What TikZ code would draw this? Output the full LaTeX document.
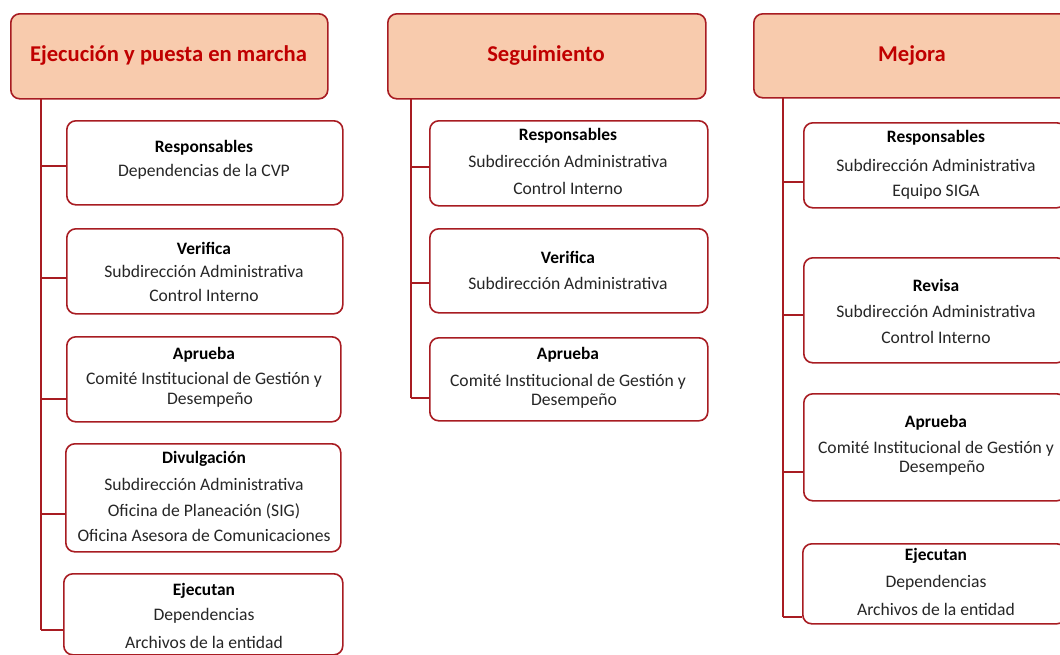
\documentclass[tikz,border=0pt]{standalone}
\usepackage{fontspec}
\setmainfont{Carlito}
\definecolor{hdrfill}{HTML}{F8CBAD}
\definecolor{edge}{HTML}{A81C22}
\definecolor{titlered}{HTML}{C00000}
\definecolor{bodytxt}{HTML}{262626}
\begin{document}
\begin{tikzpicture}[x=1pt,y=-1pt,
  hdr/.style={draw=edge, line width=1.6pt, fill=hdrfill, rounded corners=9pt, anchor=north west, inner sep=0pt},
  box/.style={draw=edge, line width=1.6pt, fill=white, rounded corners=9pt, anchor=north west, inner sep=0pt},
  conn/.style={draw=edge, line width=1.8pt},
  htxt/.style={font=\fontsize{22.6}{26}\selectfont\bfseries, text=titlered},
  ttl/.style={font=\fontsize{17.4}{20}\selectfont\bfseries, text=black},
  txt/.style={font=\fontsize{17.6}{20}\selectfont, text=bodytxt},
]
\useasboundingbox[fill=white] (0,0) rectangle (1060,654);

% ---------- column 1 ----------
\node[hdr, minimum width=317pt, minimum height=85pt] (H1) at (10,13) {};
\node[htxt] (H1t) at (168.5,55) {Ejecución y puesta en marcha};
\coordinate (T1) at (41,98);
\coordinate (B1) at (41,630);

\node[box, minimum width=276pt, minimum height=84pt] (L1) at (66,120) {};
\node[box, minimum width=276pt, minimum height=85pt] (L2) at (66,228) {};
\node[box, minimum width=274pt, minimum height=85pt] (L3) at (66,336) {};
\node[box, minimum width=275pt, minimum height=108pt] (L4) at (65,443) {};
\node[box, minimum width=279pt, minimum height=81pt] (L5) at (63,573) {};

\coordinate (c11) at (66,166);
\coordinate (c12) at (66,278);
\coordinate (c13) at (66,399);
\coordinate (c14) at (65,514);
\coordinate (c15) at (63,630);
\draw[conn] (T1) -- (B1);
\foreach \c in {c11,c12,c13,c14,c15} \draw[conn] (\c -| T1) -- (\c);

\node[ttl] (L1a) at (204,148) {Responsables};
\node[txt] (L1b) at (204,172) {Dependencias de la CVP};
\node[ttl] (L2a) at (204,248) {Verifica};
\node[txt] (L2b) at (204,271) {Subdirección Administrativa};
\node[txt] (L2c) at (204,295) {Control Interno};
\node[ttl] (L3a) at (204,355) {Aprueba};
\node[txt] (L3b) at (204,380) {Comité Institucional de Gestión y};
\node[txt] (L3c) at (210,400) {Desempeño};
\node[ttl] (L4a) at (204,459) {Divulgación};
\node[txt] (L4b) at (204,484) {Subdirección Administrativa};
\node[txt] (L4c) at (204,511) {Oficina de Planeación (SIG)};
\node[txt] (L4d) at (204,535) {Oficina Asesora de Comunicaciones};
\node[ttl] (L5a) at (204,591) {Ejecutan};
\node[txt] (L5b) at (204,616) {Dependencias};
\node[txt] (L5c) at (204,642) {Archivos de la entidad};

% ---------- column 2 ----------
\node[hdr, minimum width=318pt, minimum height=85pt] (H2) at (387,13) {};
\node[htxt] (H2t) at (546,55) {Seguimiento};
\coordinate (T2) at (411,98);
\coordinate (B2) at (411,398);

\node[box, minimum width=278pt, minimum height=85pt] (M1) at (429,120) {};
\node[box, minimum width=278pt, minimum height=84pt] (M2) at (429,228) {};
\node[box, minimum width=278pt, minimum height=83pt] (M3) at (429,337) {};

\coordinate (c21) at (429,167);
\coordinate (c22) at (429,283);
\coordinate (c23) at (429,398);
\draw[conn] (T2) -- (B2);
\foreach \c in {c21,c22,c23} \draw[conn] (\c -| T2) -- (\c);

\node[ttl] (M1a) at (568,136) {Responsables};
\node[txt] (M1b) at (568,161) {Subdirección Administrativa};
\node[txt] (M1c) at (568,188) {Control Interno};
\node[ttl] (M2a) at (568,257) {Verifica};
\node[txt] (M2b) at (568,283) {Subdirección Administrativa};
\node[ttl] (M3a) at (568,355) {Aprueba};
\node[txt] (M3b) at (568,382) {Comité Institucional de Gestión y};
\node[txt] (M3c) at (574,401) {Desempeño};

% ---------- column 3 ----------
\node[hdr, minimum width=318pt, minimum height=84pt] (H3) at (753,13) {};
\node[htxt] (H3t) at (912,55) {Mejora};
\coordinate (T3) at (783,97);
\coordinate (B3) at (783,617);

\node[box, minimum width=262pt, minimum height=85pt] (R1) at (803,122) {};
\node[box, minimum width=262pt, minimum height=105pt] (R2) at (803,257) {};
\node[box, minimum width=262pt, minimum height=107pt] (R3) at (803,393) {};
\node[box, minimum width=263pt, minimum height=80pt] (R4) at (802,543) {};

\coordinate (c31) at (803,182);
\coordinate (c32) at (803,315);
\coordinate (c33) at (803,472);
\coordinate (c34) at (802,617);
\draw[conn] (T3) -- (B3);
\foreach \c in {c31,c32,c33,c34} \draw[conn] (\c -| T3) -- (\c);

\node[ttl] (R1a) at (936,138) {Responsables};
\node[txt] (R1b) at (936,165) {Subdirección Administrativa};
\node[txt] (R1c) at (936,192) {Equipo SIGA};
\node[ttl] (R2a) at (936,285) {Revisa};
\node[txt] (R2b) at (936,311) {Subdirección Administrativa};
\node[txt] (R2c) at (936,337) {Control Interno};
\node[ttl] (R3a) at (936,423) {Aprueba};
\node[txt] (R3b) at (936,449) {Comité Institucional de Gestión y};
\node[txt] (R3c) at (942,468) {Desempeño};
\node[ttl] (R4a) at (936,556) {Ejecutan};
\node[txt] (R4b) at (936,583) {Dependencias};
\node[txt] (R4c) at (936,609) {Archivos de la entidad};
\end{tikzpicture}
\end{document}
